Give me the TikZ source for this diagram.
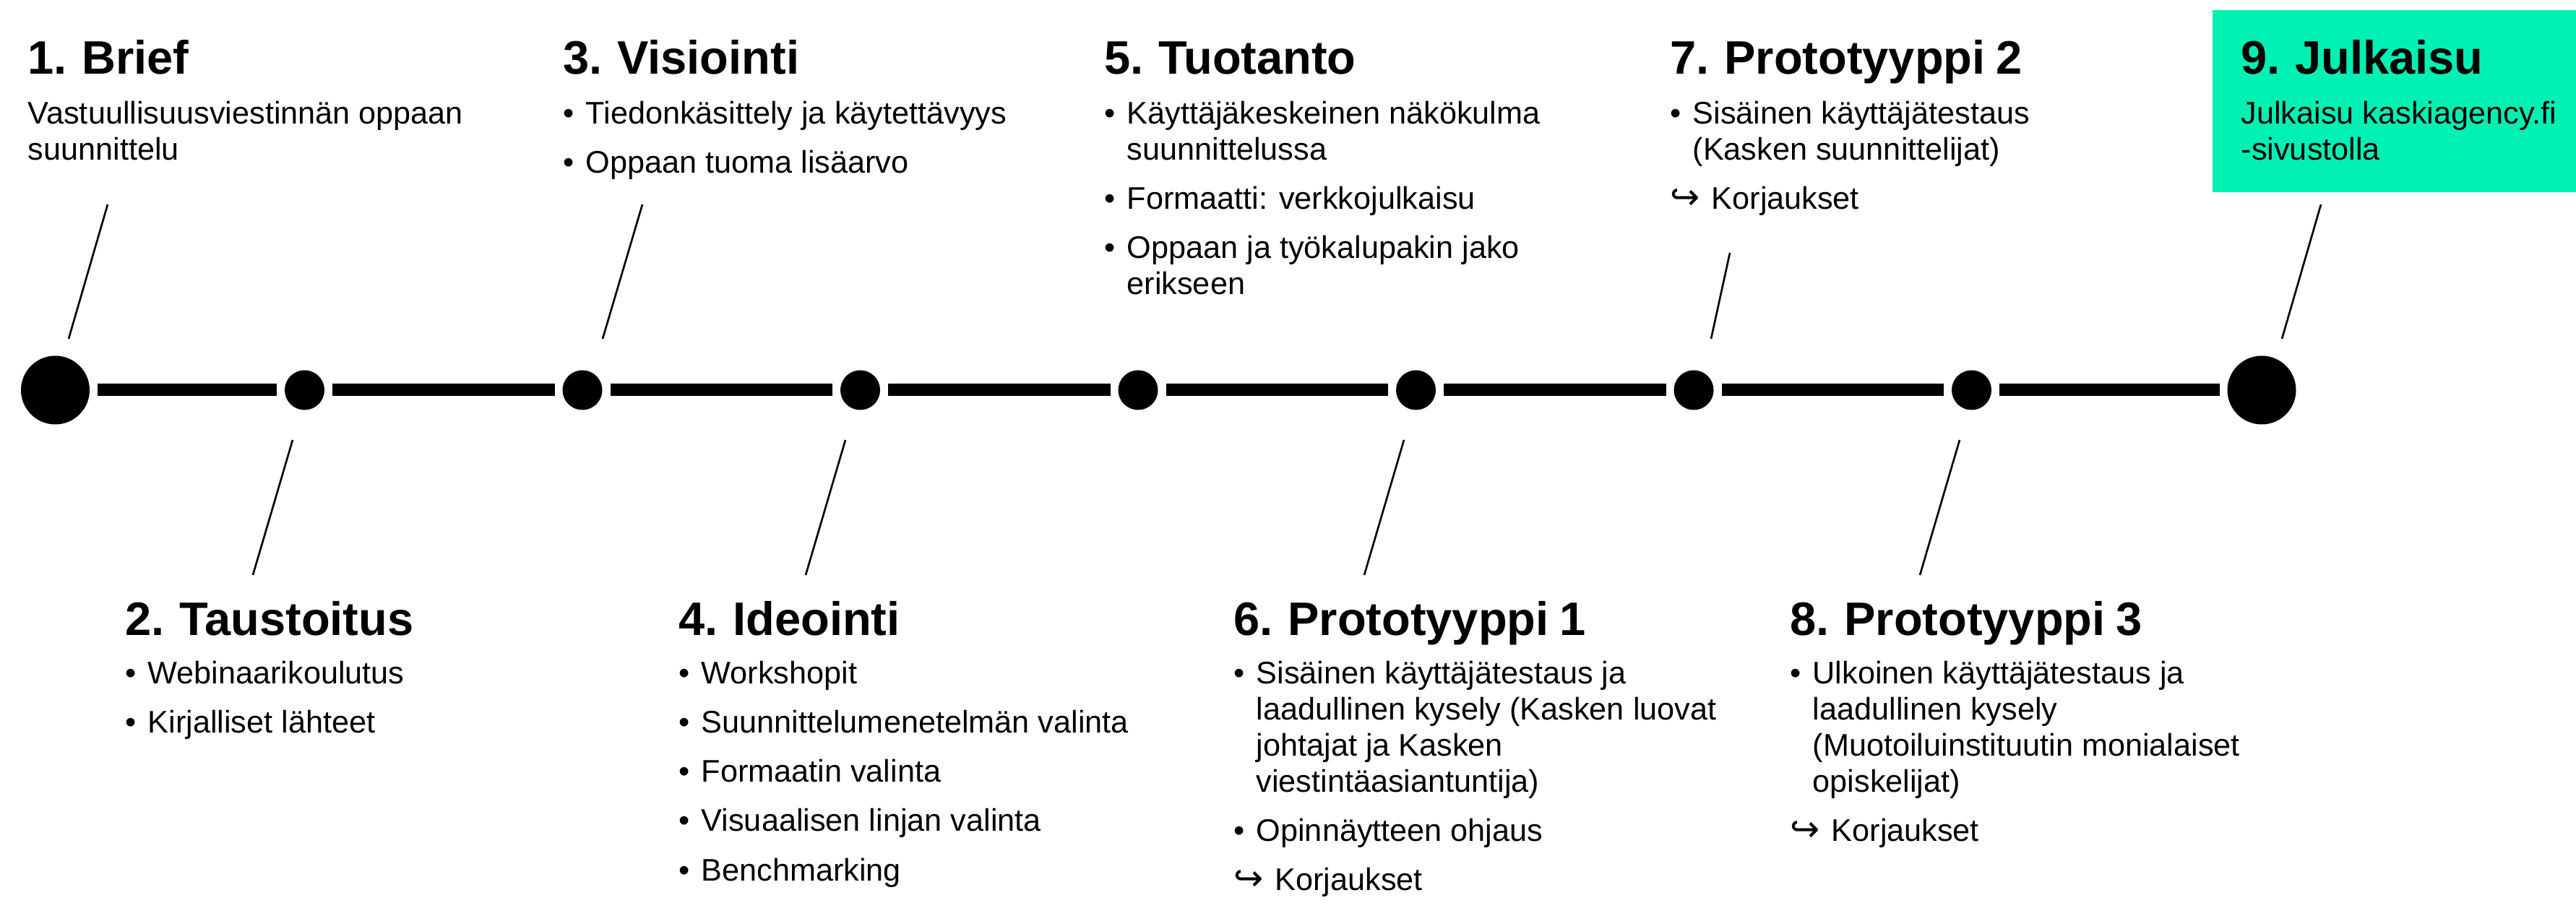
\documentclass[tikz,border=0pt]{standalone}
\usepackage{fontspec}
\setmainfont{Liberation Sans}
\newfontfamily\arrowfont{DejaVu Sans}
\newfontfamily\headfamily[WordSpace=0.8]{Liberation Sans}
\usepackage{tikz}
\usetikzlibrary{calc}
\definecolor{kaskigreen}{RGB}{0,240,180}
\newcommand{\bodyfont}{\fontsize{12.3}{14}\selectfont}
\newcommand{\headfont}{\headfamily\fontsize{18.5}{21}\selectfont\bfseries}
\newcommand{\bul}{\makebox[0.31cm][l]{•}}
\newcommand{\hookarr}{\makebox[0.57cm][l]{\arrowfont\fontsize{14}{14}\selectfont ↪}}
\tikzset{
         bigdot/.style={circle,fill=black,inner sep=0pt,minimum size=0.95cm,outer sep=0.11cm},
         smalldot/.style={circle,fill=black,inner sep=0pt,minimum size=0.55cm,outer sep=0.11cm},
         tline/.style={line width=0.17cm},
         link/.style={line width=0.75pt},
         head/.style={anchor=base west,inner sep=0pt,font=\headfont},
         txt/.style={anchor=base west,inner sep=0pt,font=\bodyfont}
        }
\begin{document}
\begin{tikzpicture}
\useasboundingbox(0,0)rectangle(35.65,12.5);
%highlight box
\fill[kaskigreen](30.62,12.36)rectangle(35.65,9.84);
%timeline dots
\node[bigdot](d1)at(0.765,7.1){};
\foreach \i/\x in {2/4.215,3/8.06,4/11.905,5/15.75,6/19.595,7/23.44,8/27.285}{
\node[smalldot](d\i)at(\x,7.1){};
}
\node[bigdot](d9)at(31.30,7.1){};
%timeline
\foreach \a/\b in {1/2,2/3,3/4,4/5,5/6,6/7,7/8,8/9}{
\draw[tline](d\a)--(d\b);
}
%connectors
\foreach \n/\xa/\ya/\xb/\yb in {1/1.49/9.67/0.95/7.81,3/8.89/9.67/8.34/7.81,7/23.94/9.00/23.68/7.81,9/32.12/9.67/31.58/7.81,
2/4.05/6.41/3.50/4.54,4/11.70/6.41/11.15/4.54,6/19.43/6.41/18.88/4.54,8/27.12/6.41/26.57/4.54}{
\coordinate(a\n)at(\xa,\ya);
\coordinate(b\n)at(\xb,\yb);
\draw[link](a\n)--(b\n);
}
%labels top
\node[head](h1)at(0.38,11.47){1. Brief};
\node[txt](t1a)at(0.38,10.78){Vastuullisuusviestinnän oppaan};
\node[txt](t1b)at(0.38,10.28){suunnittelu};
\node[head](h3)at(7.79,11.47){3. Visiointi};
\node[txt](t3a)at(7.79,10.78){\bul Tiedonkäsittely ja käytettävyys};
\node[txt](t3b)at(7.79,10.10){\bul Oppaan tuoma lisäarvo};
\node[head](h5)at(15.28,11.47){5. Tuotanto};
\node[txt](t5a)at(15.28,10.78){\bul Käyttäjäkeskeinen näkökulma};
\node[txt](t5b)at(15.59,10.28){suunnittelussa};
\node[txt](t5c)at(15.28,9.60){\bul Formaatti: verkkojulkaisu};
\node[txt](t5d)at(15.28,8.92){\bul Oppaan ja työkalupakin jako};
\node[txt](t5e)at(15.59,8.42){erikseen};
\node[head](h7)at(23.11,11.47){7. Prototyyppi 2};
\node[txt](t7a)at(23.11,10.78){\bul Sisäinen käyttäjätestaus};
\node[txt](t7b)at(23.42,10.28){(Kasken suunnittelijat)};
\node[txt](t7c)at(23.11,9.60){\hookarr Korjaukset};
\node[head](h9)at(31.01,11.47){9. Julkaisu};
\node[txt](t9a)at(31.01,10.78){Julkaisu kaskiagency.fi};
\node[txt](t9b)at(31.01,10.28){-sivustolla};
%labels bottom
\node[head](h2)at(1.73,3.70){2. Taustoitus};
\node[txt](t2a)at(1.73,3.03){\bul Webinaarikoulutus};
\node[txt](t2b)at(1.73,2.35){\bul Kirjalliset lähteet};
\node[head](h4)at(9.39,3.70){4. Ideointi};
\node[txt](t4a)at(9.39,3.03){\bul Workshopit};
\node[txt](t4b)at(9.39,2.35){\bul Suunnittelumenetelmän valinta};
\node[txt](t4c)at(9.39,1.67){\bul Formaatin valinta};
\node[txt](t4d)at(9.39,0.99){\bul Visuaalisen linjan valinta};
\node[txt](t4e)at(9.39,0.31){\bul Benchmarking};
\node[head](h6)at(17.07,3.70){6. Prototyyppi 1};
\node[txt](t6a)at(17.07,3.03){\bul Sisäinen käyttäjätestaus ja};
\node[txt](t6b)at(17.38,2.53){laadullinen kysely (Kasken luovat};
\node[txt](t6c)at(17.38,2.03){johtajat ja Kasken};
\node[txt](t6d)at(17.38,1.53){viestintäasiantuntija)};
\node[txt](t6e)at(17.07,0.85){\bul Opinnäytteen ohjaus};
\node[txt](t6f)at(17.07,0.17){\hookarr Korjaukset};
\node[head](h8)at(24.77,3.70){8. Prototyyppi 3};
\node[txt](t8a)at(24.77,3.03){\bul Ulkoinen käyttäjätestaus ja};
\node[txt](t8b)at(25.08,2.53){laadullinen kysely};
\node[txt](t8c)at(25.08,2.03){(Muotoiluinstituutin monialaiset};
\node[txt](t8d)at(25.08,1.53){opiskelijat)};
\node[txt](t8e)at(24.77,0.85){\hookarr Korjaukset};
\end{tikzpicture}
\end{document}
